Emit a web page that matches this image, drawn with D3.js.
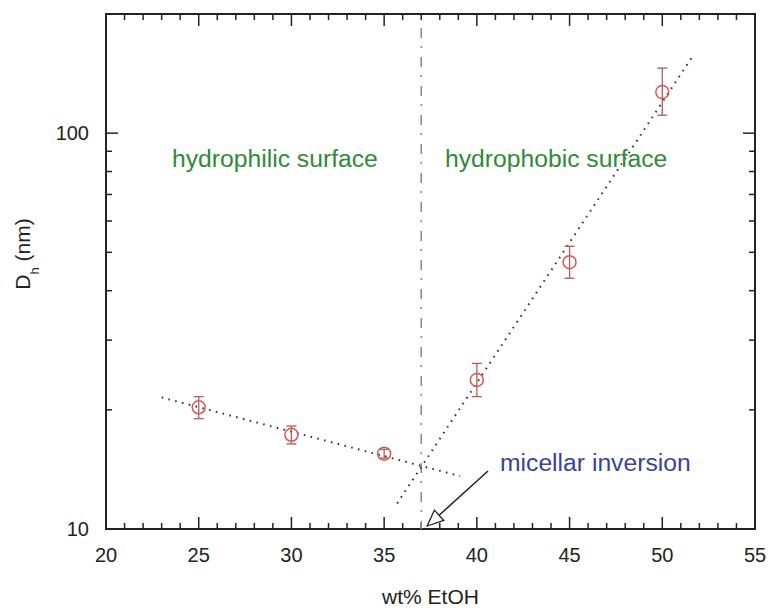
<!DOCTYPE html>
<meta charset="utf-8">
<style>
body {
    margin: 0px;
    background: white;
}
text {
  font-family: "Liberation Sans", Arial, sans-serif;
}
</style>
<body>
<script src="https://d3js.org/d3.v7.min.js"></script>
<script>
// measured values (wt% EtOH vs hydrodynamic diameter)
var xVals  = [25, 30, 35, 40, 45, 50];
var dh     = [20.3, 17.3, 15.5, 23.8, 47.2, 127];
var errLo  = [19.0, 16.4, 15.1, 21.6, 43.0, 111];
var errHi  = [21.6, 18.2, 15.9, 26.2, 51.8, 146];

// fitted lines (end points)
var fitLow  = [[23, 21.5], [39.1, 13.6]];
var fitHigh = [[35.7, 11.6], [51.7, 158]];
var inversionX = 37;

var xTicks = [20, 25, 30, 35, 40, 45, 50, 55];
var yTickLabels = [10, 100];

var width = 769, height = 609;
var margin = {left: 106, top: 14, right: 14, bottom: 80};

var svg = d3.select("body").append("svg")
    .attr("width", width)
    .attr("height", height);

var x = d3.scaleLinear().domain([20, 55]).range([margin.left, width - margin.right]);
var y = d3.scaleLog().domain([10, 200]).range([height - margin.bottom, margin.top]);

var x0 = x.range()[0], x1 = x.range()[1];
var y0 = y.range()[0], y1 = y.range()[1];

var yMinor = [20, 30, 40, 50, 60, 70, 80, 90, 200];

function tickLen(major) { return major ? 12 : 6; }

var g = svg.append("g");

// x ticks bottom and top
d3.range(20, 56, 1).forEach(function(d) {
  var major = d % 5 == 0;
  g.append("line").attr("x1", x(d)).attr("x2", x(d))
    .attr("y1", y0).attr("y2", y0 - tickLen(major))
    .attr("stroke", "#222").attr("stroke-width", 1.5);
  g.append("line").attr("x1", x(d)).attr("x2", x(d))
    .attr("y1", y1).attr("y2", y1 + tickLen(major))
    .attr("stroke", "#222").attr("stroke-width", 1.5);
});

// y ticks left and right
yTickLabels.concat(yMinor).forEach(function(d) {
  var major = yTickLabels.indexOf(d) >= 0;
  g.append("line").attr("x1", x0).attr("x2", x0 + tickLen(major))
    .attr("y1", y(d)).attr("y2", y(d))
    .attr("stroke", "#222").attr("stroke-width", 1.5);
  g.append("line").attr("x1", x1).attr("x2", x1 - tickLen(major))
    .attr("y1", y(d)).attr("y2", y(d))
    .attr("stroke", "#222").attr("stroke-width", 1.5);
});

// frame
g.append("rect")
  .attr("x", x0).attr("y", y1)
  .attr("width", x1 - x0).attr("height", y0 - y1)
  .attr("fill", "none").attr("stroke", "#222").attr("stroke-width", 2);

// tick labels
g.selectAll(".xlab").data(xTicks).enter().append("text")
  .attr("x", function(d) { return x(d); })
  .attr("y", y0 + 33)
  .attr("text-anchor", "middle")
  .attr("font-size", 20)
  .attr("fill", "#222")
  .text(function(d) { return d; });

g.selectAll(".ylab").data(yTickLabels).enter().append("text")
  .attr("x", x0 - 17)
  .attr("y", function(d) { return y(d) + 7; })
  .attr("text-anchor", "end")
  .attr("font-size", 20)
  .attr("fill", "#222")
  .text(function(d) { return d; });

// axis titles
svg.append("text")
  .attr("x", (x0 + x1) / 2)
  .attr("y", 604)
  .attr("text-anchor", "middle")
  .attr("font-size", 21)
  .attr("fill", "#222")
  .text("wt% EtOH");

var yt = svg.append("text")
  .attr("transform", "translate(30," + 254 + ") rotate(-90)")
  .attr("text-anchor", "middle")
  .attr("font-size", 21)
  .attr("fill", "#222");
yt.append("tspan").text("D");
yt.append("tspan").attr("font-size", 13).attr("dy", 9).text("h");
yt.append("tspan").attr("dy", -9).text(" (nm)");

// vertical dash-dot line
g.append("line")
  .attr("x1", x(inversionX)).attr("x2", x(inversionX))
  .attr("y1", y1 + 14).attr("y2", y0)
  .attr("stroke", "#888").attr("stroke-width", 1.5)
  .attr("stroke-dasharray", "10,8,2,9");

// fit lines
var line = d3.line()
  .x(function(d) { return x(d[0]); })
  .y(function(d) { return y(d[1]); });

[fitLow, fitHigh].forEach(function(f) {
  g.append("path")
    .attr("d", line(f))
    .attr("fill", "none")
    .attr("stroke", "#333")
    .attr("stroke-width", 2)
    .attr("stroke-dasharray", "1.6,5.4");
});

// error bars
var pts = xVals.map(function(d, i) {
  return {x: d, y: dh[i], lo: errLo[i], hi: errHi[i]};
});

var eb = g.selectAll(".err").data(pts).enter().append("g")
  .attr("stroke", "#b55a5a").attr("stroke-width", 1.3);
eb.append("line")
  .attr("x1", function(d) { return x(d.x); })
  .attr("x2", function(d) { return x(d.x); })
  .attr("y1", function(d) { return y(d.lo); })
  .attr("y2", function(d) { return y(d.hi); });
eb.append("line")
  .attr("x1", function(d) { return x(d.x) - 5; })
  .attr("x2", function(d) { return x(d.x) + 5; })
  .attr("y1", function(d) { return y(d.lo); })
  .attr("y2", function(d) { return y(d.lo); });
eb.append("line")
  .attr("x1", function(d) { return x(d.x) - 5; })
  .attr("x2", function(d) { return x(d.x) + 5; })
  .attr("y1", function(d) { return y(d.hi); })
  .attr("y2", function(d) { return y(d.hi); });

g.selectAll(".pt").data(pts).enter().append("circle")
  .attr("cx", function(d) { return x(d.x); })
  .attr("cy", function(d) { return y(d.y); })
  .attr("r", 6.5)
  .attr("fill", "none")
  .attr("stroke", "#d8584e")
  .attr("stroke-width", 1.5);

// region labels
svg.append("text")
  .attr("x", 172).attr("y", 167)
  .attr("font-size", 24.7)
  .attr("fill", "#2f8a3a")
  .text("hydrophilic surface");

svg.append("text")
  .attr("x", 445).attr("y", 167)
  .attr("font-size", 24.7)
  .attr("fill", "#2f8a3a")
  .text("hydrophobic surface");

// annotation
svg.append("text")
  .attr("x", 500).attr("y", 471)
  .attr("font-size", 24.7)
  .attr("fill", "#3d3f9a")
  .text("micellar inversion");

var ax0 = 488, ay0 = 471, ax1 = x(inversionX) + 6, ay1 = y0 - 3;
var ang = Math.atan2(ay1 - ay0, ax1 - ax0);
var hl = 16, hw = 7;
var bx = ax1 - hl * Math.cos(ang), by = ay1 - hl * Math.sin(ang);
svg.append("line")
  .attr("x1", ax0).attr("y1", ay0)
  .attr("x2", bx).attr("y2", by)
  .attr("stroke", "#222").attr("stroke-width", 1.5);
svg.append("path")
  .attr("d", "M" + ax1 + "," + ay1 +
    "L" + (bx + hw * Math.sin(ang)) + "," + (by - hw * Math.cos(ang)) +
    "L" + (bx - hw * Math.sin(ang)) + "," + (by + hw * Math.cos(ang)) + "Z")
  .attr("fill", "white")
  .attr("stroke", "#222").attr("stroke-width", 1.3);
</script>
</body>
</html>
